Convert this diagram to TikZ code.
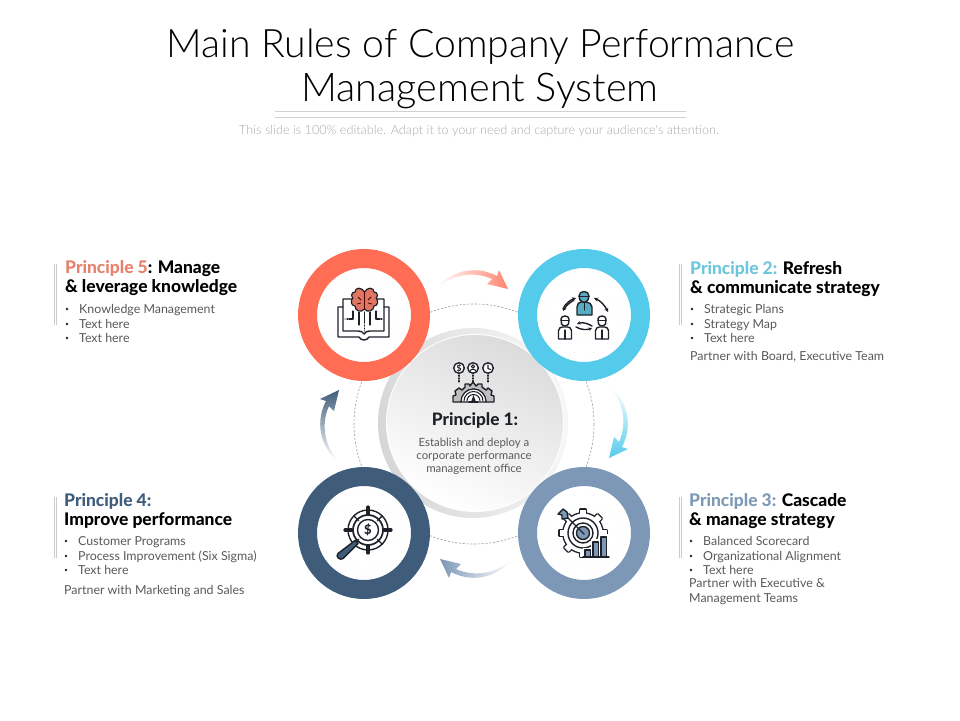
\documentclass[tikz,border=0pt]{standalone}
\usepackage{fontspec}
\setmainfont{Lato}
\newfontfamily\titlefont{Lato Light}
\newfontfamily\headfont{Lato Heavy}
\usetikzlibrary{arrows.meta}
\definecolor{cred}{HTML}{FF6E54}
\definecolor{cblue}{HTML}{55CBEB}
\definecolor{cslate}{HTML}{7D97B6}
\definecolor{cdark}{HTML}{3F5C7A}
\definecolor{ink}{HTML}{1E2228}
\definecolor{bodytxt}{HTML}{5A5A5A}
\definecolor{t5}{HTML}{E8806C}
\definecolor{t2}{HTML}{6CC7DC}
\definecolor{t3}{HTML}{7F99B5}
\definecolor{t4}{HTML}{3F5C7A}
\tikzset{
 x=1pt,y=-1pt,
 ring/.style={circle,draw=#1,line width=19pt,fill=white,minimum size=113pt,inner sep=0pt},
 iconline/.style={draw=ink,line width=1.4pt,line join=round,line cap=round},
 iconfine/.style={draw=ink,line width=1.05pt,line join=round,line cap=round},
 headtxt/.style={anchor=base west,inner sep=0pt,font=\headfont\fontsize{17.4}{19}\selectfont,text=black},
 bodyline/.style={anchor=base west,inner sep=0pt,font=\fontsize{12.4}{14}\selectfont,text=bodytxt},
 bull/.style={circle,fill=#1,inner sep=0pt,minimum size=2.8pt},
 sidebar/.style={draw=#1,line width=0.7pt},
}
\newcommand{\crescent}{(437,288) .. controls (447,274) and (472,263) .. (497,276) -- (499,270) -- (508,289) -- (487,284) -- (492,279) .. controls (472,270) and (450,276) .. (437,288) -- cycle}
\newcommand{\dotfield}[2]{%
 \begin{scope}
 \clip (#1,#2) circle (46);
 \foreach \i in {-5,...,5} \foreach \j in {-5,...,5}
  \fill[black!9] ({#1+\i*9.4+mod(abs(\j),2)*4.7},{#2+\j*9.4}) circle (0.5);
 \end{scope}}
\newcommand{\minip}[3]{% x,y,body colour
 \path[iconline,fill=#3] (#1-6.5,#2+12) -- (#1-6.5,#2+3.5) .. controls (#1-6.5,#2+1) and (#1-4,#2) .. (#1-2.5,#2) -- (#1+2.5,#2) .. controls (#1+4,#2) and (#1+6.5,#2+1) .. (#1+6.5,#2+3.5) -- (#1+6.5,#2+12) -- cycle;
 \draw[iconfine] (#1,#2+3) -- (#1,#2+12);
 \path[iconline,fill=#3] (#1-4,#2-8) .. controls (#1-4,#2-12) and (#1+4,#2-12) .. (#1+4,#2-8) -- (#1+3.5,#2-3) .. controls (#1+2,#2-0.5) and (#1-2,#2-0.5) .. (#1-3.5,#2-3) -- cycle;
 \draw[iconfine] (#1-4,#2-6.5) -- (#1+4,#2-6.5);}
\begin{document}
\begin{tikzpicture}
\useasboundingbox (0,0) rectangle (960,720);
\fill[white] (0,0) rectangle (960,720);

% Title
\node[inner sep=0pt,anchor=base,font=\titlefont\fontsize{39.2}{42}\selectfont,text=black] (title1) at (480.5,57) {Main Rules of Company Performance};
\node[inner sep=0pt,anchor=base,font=\titlefont\fontsize{39.6}{42}\selectfont,text=black] (title2) at (480,101) {Management System};
\draw[black!18,line width=0.6pt] (275,111) -- (686,111);
\draw[black!18,line width=0.6pt] (275,117) -- (686,117);
\node[inner sep=0pt,anchor=base,font=\titlefont\fontsize{12.65}{14}\selectfont,text=black!33] (sub) at (479,134) {This slide is 100\% editable. Adapt it to your need and capture your audience's attention.};

% dashed orbit
\draw[black!38,line width=0.6pt,dash pattern=on 2.2pt off 1.6pt] (474,424) circle (120);

% centre disc
\shade[left color=black!16,right color=black!3,shading angle=100] (473,423) circle (95);
\fill[white] (475,423) circle (89);
\shade[top color=black!14,bottom color=white,shading angle=-25] (475,423) circle (88);

% Crescent arrows
\shade[left color=white,right color=cred!85] \crescent;
\begin{scope}[rotate around={-90:(474,424)}]
 \shade[top color=white,bottom color=cblue] \crescent;
\end{scope}
\begin{scope}[rotate around={-180:(474,424)}]
 \shade[right color=white,left color=cslate] \crescent;
\end{scope}
\begin{scope}[rotate around={-270:(474,424)}]
 \shade[bottom color=white,top color=cdark] \crescent;
\end{scope}

% Rings
\node[ring=cred]   (p5) at (364,315) {};
\node[ring=cblue]  (p2) at (584,315) {};
\node[ring=cdark]  (p4) at (364,533) {};
\node[ring=cslate] (p3) at (584,533) {};
\dotfield{364}{315}\dotfield{584}{315}\dotfield{364}{533}\dotfield{584}{533}

% Icon: book and brain
\draw[iconline] (343,307) -- (338,307) -- (338,337) -- (359,337) .. controls (361,341) and (367,341) .. (369,337) -- (389,337) -- (389,307) -- (384,307);
\draw[iconline] (352,299) -- (343,299) -- (343,331) -- (358,331) .. controls (361,331) and (363,332) .. (364,334) .. controls (365,332) and (367,331) .. (370,331) -- (384,331) -- (384,299) -- (376,299);
\draw[iconfine] (359,312) -- (359,325) (364.5,312) -- (364.5,323) (370,312) -- (370,325);
\draw[iconfine] (353,311) -- (353,319) -- (349,319) (376,311) -- (376,319) -- (380,319);
\draw[iconfine,dash pattern=on 1pt off 2pt] (348,319) -- (345,319) (381,319) -- (383,319) (364.5,325) -- (364.5,331);
\path[draw=ink,line width=1.2pt,fill=cred!85!black!85!white,line join=round]
 (364.5,292) .. controls (362,287) and (355,287) .. (355,292) .. controls (351,292) and (351,297) .. (353,298)
 .. controls (350,300) and (351,306) .. (355,306) .. controls (355,311) and (361,313) .. (364.5,309)
 .. controls (367,313) and (374,311) .. (374,306) .. controls (378,306) and (379,300) .. (376,298)
 .. controls (378,297) and (378,292) .. (374,292) .. controls (374,287) and (367,287) .. (364.5,292) -- cycle;
\draw[black!70!red,line width=0.8pt] (364.5,291) -- (364.5,309) (358,297) -- (361,300) (371,297) -- (368,300) (357,304) -- (361,303) (372,304) -- (368,303);

% Icon: people
\path[iconline,fill=cblue!80!black!90] (577,315) -- (577,307) .. controls (577,304) and (579,302) .. (581,302) -- (586,302) .. controls (589,302) and (592,304) .. (592,307) -- (592,315) -- cycle;
\path[iconline,fill=cblue!80!black!90] (579,296) .. controls (579,290) and (589,290) .. (589,296) -- (588,300) .. controls (586,303) and (582,303) .. (580,300) -- cycle;
\draw[iconfine] (579,296.5) -- (589,296.5);
\draw[iconfine] (584.5,303) -- (584.5,310);
\minip{565}{327}{white}
\minip{602}{327}{white}
\draw[iconline,-{Stealth[length=4pt,width=4pt]}] (574,300) .. controls (569,303) and (566,306) .. (563,311);
\draw[iconline,-{Stealth[length=4pt,width=4pt]}] (563,309) .. controls (565,304) and (570,300) .. (576,298);
\draw[iconline,{Stealth[length=4pt,width=4pt]}-{Stealth[length=4pt,width=4pt]}] (594,298) .. controls (601,301) and (605,306) .. (608,312);
\draw[iconline,{Stealth[length=3.5pt,width=3.5pt]}-] (577,324) .. controls (582,322) and (587,323) .. (592,326);
\draw[iconline,-{Stealth[length=3.5pt,width=3.5pt]}] (576,327) .. controls (581,330) and (587,330) .. (592,328);

% Icon: magnifier
\draw[iconline] (368,530) circle (20);
\draw[iconline] (354,516) -- (382,544) (382,516) -- (354,544);
\fill[white] (368,530) circle (13);
\draw[iconline,line width=1.7pt] (368,530) circle (15);
\draw[iconline] (368,530) circle (10.5);
\draw[ink,line width=3.2pt,line cap=round] (368,507) -- (368,514) (368,546) -- (368,553) (345,530) -- (352,530) (384,530) -- (391,530);
\node[inner sep=0pt,text=ink,font=\headfont\fontsize{13}{13}\selectfont] (dollar) at (368,530) {\$};
\draw[iconline] (357,540) -- (353,544);
\path[iconline,fill=cdark] (355,540.5) -- (358,543.5) -- (343,558.5) .. controls (340,561) and (335,556.5) .. (338,553.5) -- cycle;

% Icon: gear target
\foreach \a in {0,45,...,315} {
 \draw[ink,line width=2.8pt,line join=round,rotate around={\a:(583,533)}] (580,509.5) rectangle (586,516);
}
\draw[ink,line width=2.8pt] (583,533) circle (19.5);
\foreach \a in {0,45,...,315} {
 \fill[white,rotate around={\a:(583,533)}] (580,509.5) rectangle (586,516);
}
\fill[white] (583,533) circle (19.5);
\draw[iconline] (583,533) circle (15);
\draw[iconline] (583,533) circle (10);
\path[iconline,fill=cslate] (583,533) circle (6.5);
\draw[iconline] (584,534) -- (568,518);
\path[iconline,fill=cslate] (568,518) -- (562,519) -- (562,515) -- (558,514) -- (563,509) -- (567,512) -- cycle;
\fill[white] (583,548) rectangle (610,560);
\fill[white] (591,539) rectangle (610,560);
\fill[white] (599,534) rectangle (610,560);
\path[iconline,fill=cslate] (585,550) rectangle (590.5,557);
\path[iconline,fill=cslate] (593,542) rectangle (598.5,557);
\path[iconline,fill=cslate] (601,537) rectangle (606.5,557);
\draw[iconline] (583,557) -- (609,557);

% Icon: centre gear
\foreach \cx in {459,473,488} {
 \draw[iconline,fill=white] (\cx,368) circle (5.3);
 \draw[iconfine,dash pattern=on 1.3pt off 1.5pt] (\cx,375) -- (\cx,383);
}
\node[inner sep=0pt,text=ink,font=\headfont\fontsize{8.5}{9}\selectfont] (dsym) at (459,368) {\$};
\draw[iconfine] (473,366.5) circle (1.7);
\draw[iconfine] (469.8,371.5) .. controls (470.5,368.5) and (475.5,368.5) .. (476.2,371.5);
\draw[iconfine] (488,365) -- (488,368.5) -- (490.5,369.5);
\path[iconline,fill=black!25] (453,402) -- (453,396) -- (456,395) -- (455,391) -- (459,388) -- (462,390) -- (465,387) -- (465,384) -- (469,384) -- (470,386) -- (473,382) -- (476,386) -- (478,384) -- (482,384) -- (482,387) -- (486,390) -- (488,388) -- (492,391) -- (491,395) -- (494,396) -- (494,402) -- (486,402) arc (0:-180:12.5 and 13) -- cycle;
\path[iconfine,fill=white] (461,402) arc (180:360:12.5 and 13) -- cycle;
\draw[iconfine] (464,401) arc (180:360:9.5);
\draw[iconfine] (467,401) arc (180:360:6.5);
\path[fill=ink] (473.5,395) -- (476,402) -- (471,402) -- cycle;
\draw[iconfine] (469,402) -- (478,402);

% Centre text
\node[inner sep=0pt,anchor=base,font=\headfont\fontsize{17.2}{19}\selectfont,text=ink] (p1) at (475,425) {Principle 1:};
\node[inner sep=0pt,anchor=base,font=\fontsize{11.4}{13}\selectfont,text=bodytxt] (p1a) at (474,446) {Establish and deploy a};
\node[inner sep=0pt,anchor=base,font=\fontsize{11.4}{13}\selectfont,text=bodytxt] (p1b) at (474,459) {corporate performance};
\node[inner sep=0pt,anchor=base,font=\fontsize{11.4}{13}\selectfont,text=bodytxt] (p1c) at (474,472) {management office};

% Principle 5
\draw[sidebar=black!20] (54.5,264) -- (54.5,325) (56.5,264) -- (56.5,325);
\node[headtxt] (h5a) at (65,273) {\textcolor{t5}{Principle 5}: Manage};
\node[headtxt] (h5b) at (65,292) {\& leverage knowledge};
\node[bull=ink] at (67,309) {}; \node[bull=ink] at (67,324) {}; \node[bull=ink] at (67,338) {};
\node[bodyline] (b5a) at (79,313) {Knowledge Management};
\node[bodyline] (b5b) at (79,328) {Text here};
\node[bodyline] (b5c) at (79,342) {Text here};

% Principle 2
\draw[sidebar=black!20] (679.5,264) -- (679.5,325) (681.5,264) -- (681.5,325);
\node[headtxt] (h2a) at (690,274) {\textcolor{t2}{Principle 2:} Refresh};
\node[headtxt] (h2b) at (690,293) {\& communicate strategy};
\node[bull=ink] at (692,309) {}; \node[bull=ink] at (692,324) {}; \node[bull=ink] at (692,338) {};
\node[bodyline] (b2a) at (704,313) {Strategic Plans};
\node[bodyline] (b2b) at (704,328) {Strategy Map};
\node[bodyline] (b2c) at (704,342) {Text here};
\node[bodyline] (b2d) at (690,360) {Partner with Board, Executive Team};

% Principle 4
\draw[sidebar=black!20] (54.5,497) -- (54.5,558) (56.5,497) -- (56.5,558);
\node[headtxt] (h4a) at (64,506) {\textcolor{t4}{Principle 4:}};
\node[headtxt] (h4b) at (64,525) {Improve performance};
\node[bull=ink] at (66,541) {}; \node[bull=ink] at (66,556) {}; \node[bull=ink] at (66,570) {};
\node[bodyline] (b4a) at (78,545) {Customer Programs};
\node[bodyline] (b4b) at (78,560) {Process Improvement (Six Sigma)};
\node[bodyline] (b4c) at (78,574) {Text here};
\node[bodyline] (b4d) at (64,594) {Partner with Marketing and Sales};

% Principle 3
\draw[sidebar=black!20] (679.5,497) -- (679.5,558) (681.5,497) -- (681.5,558);
\node[headtxt] (h3a) at (689,506) {\textcolor{t3}{Principle 3:} Cascade};
\node[headtxt] (h3b) at (689,525) {\& manage strategy};
\node[bull=ink] at (691,541) {}; \node[bull=ink] at (691,556) {}; \node[bull=ink] at (691,570) {};
\node[bodyline] (b3a) at (703,545) {Balanced Scorecard};
\node[bodyline] (b3b) at (703,560) {Organizational Alignment};
\node[bodyline] (b3c) at (703,574) {Text here};
\node[bodyline] (b3d) at (689,587) {Partner with Executive \&};
\node[bodyline] (b3e) at (689,602) {Management Teams};
\end{tikzpicture}
\end{document}
